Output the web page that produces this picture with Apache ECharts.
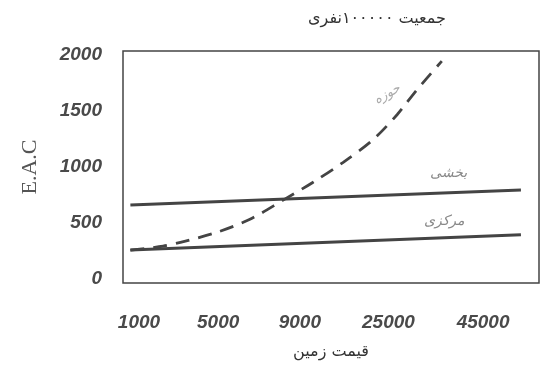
<!DOCTYPE html>
<html>
<head>
<meta charset="utf-8">
<script src="https://cdn.jsdelivr.net/npm/echarts@6/dist/echarts.min.js"></script>
<style>
html, body { margin: 0; padding: 0; background: #fff; }
#chart { width: 541px; height: 365px; }
</style>
</head>
<body>
<div id="chart"></div>
<script>
// x ticks: land price labels and where they sit on the (uneven) axis
var xTickPos = [0, 0.92, 1.87, 2.9, 4];
var xTickLabels = ['1000', '5000', '9000', '25000', '45000'];
var yTicks = [0, 500, 1000, 1500, 2000];

// solid lines (two end points each)
var lineX = [-0.1, 4.44];
var lowerY = [258, 394];
var middleY = [660, 794];

// dashed curve
var dashX = [-0.1, 0.28, 0.54, 0.91, 1.29, 1.67, 2.02, 2.37, 2.72, 3.0, 3.23, 3.52];
var dashY = [258, 293, 338, 418, 533, 702, 862, 1040, 1244, 1467, 1689, 1945];

var seriesNames = ['مرکزی', 'بخشی', 'حوزه'];

function pairs(xs, ys) {
    return xs.map(function (x, i) { return [x, ys[i]]; });
}

var myChart = echarts.init(document.getElementById('chart'));

var tickFont = {
    color: '#4a4a4a',
    fontFamily: 'Liberation Sans',
    fontWeight: 'bold',
    fontStyle: 'italic',
    fontSize: 19
};

option = {
    animation: false,
    title: {
        text: 'جمعیت ۱۰۰۰۰۰نفری',
        left: 372,
        top: 6,
        textAlign: 'center',
        textStyle: {
            fontFamily: 'DejaVu Sans',
            fontWeight: 'normal',
            fontSize: 16,
            color: '#333'
        }
    },
    grid: {
        left: 123,
        top: 51,
        right: 2,
        bottom: 81,
        show: true,
        borderColor: '#444',
        borderWidth: 1.5
    },
    xAxis: {
        type: 'value',
        min: -0.186,
        max: 4.65,
        name: 'قیمت زمین',
        nameLocation: 'middle',
        nameGap: 61,
        nameTextStyle: {
            fontFamily: 'DejaVu Sans',
            fontSize: 16,
            color: '#333'
        },
        axisLine: { show: false },
        axisTick: { show: false },
        splitLine: { show: false },
        axisLabel: Object.assign({
            customValues: xTickPos,
            margin: 30,
            formatter: function (v) {
                for (var i = 0; i < xTickPos.length; i++) {
                    if (Math.abs(xTickPos[i] - v) < 1e-6) return xTickLabels[i];
                }
                return '';
            }
        }, tickFont)
    },
    yAxis: {
        type: 'value',
        min: -36,
        max: 2036,
        name: 'E.A.C',
        nameLocation: 'middle',
        nameGap: 82,
        nameTextStyle: {
            fontFamily: 'Liberation Serif',
            fontSize: 22,
            color: '#555'
        },
        axisLine: { show: false },
        axisTick: { show: false },
        splitLine: { show: false },
        axisLabel: Object.assign({
            customValues: yTicks,
            margin: 21,
            formatter: function (v) { return String(v); }
        }, tickFont)
    },
    series: [{
        name: seriesNames[0],
        type: 'line',
        data: pairs(lineX, lowerY),
        symbol: 'none',
        lineStyle: { color: '#444', width: 3 }
    }, {
        name: seriesNames[1],
        type: 'line',
        data: pairs(lineX, middleY),
        symbol: 'none',
        lineStyle: { color: '#444', width: 3 }
    }, {
        name: seriesNames[2],
        type: 'line',
        data: pairs(dashX, dashY),
        symbol: 'none',
        smooth: 0.3,
        lineStyle: { color: '#444', width: 2.8, type: [14, 9] }
    }],
    graphic: [{
        type: 'text',
        left: 372,
        top: 82,
        rotation: 0.5,
        style: { text: seriesNames[2], fill: '#aaa', font: 'italic 13px DejaVu Sans' }
    }, {
        type: 'text',
        left: 430,
        top: 166,
        style: { text: seriesNames[1], fill: '#888', font: 'italic 14px DejaVu Sans' }
    }, {
        type: 'text',
        left: 424,
        top: 214,
        style: { text: seriesNames[0], fill: '#888', font: 'italic 14px DejaVu Sans' }
    }]
};

myChart.setOption(option);
</script>
</body>
</html>
